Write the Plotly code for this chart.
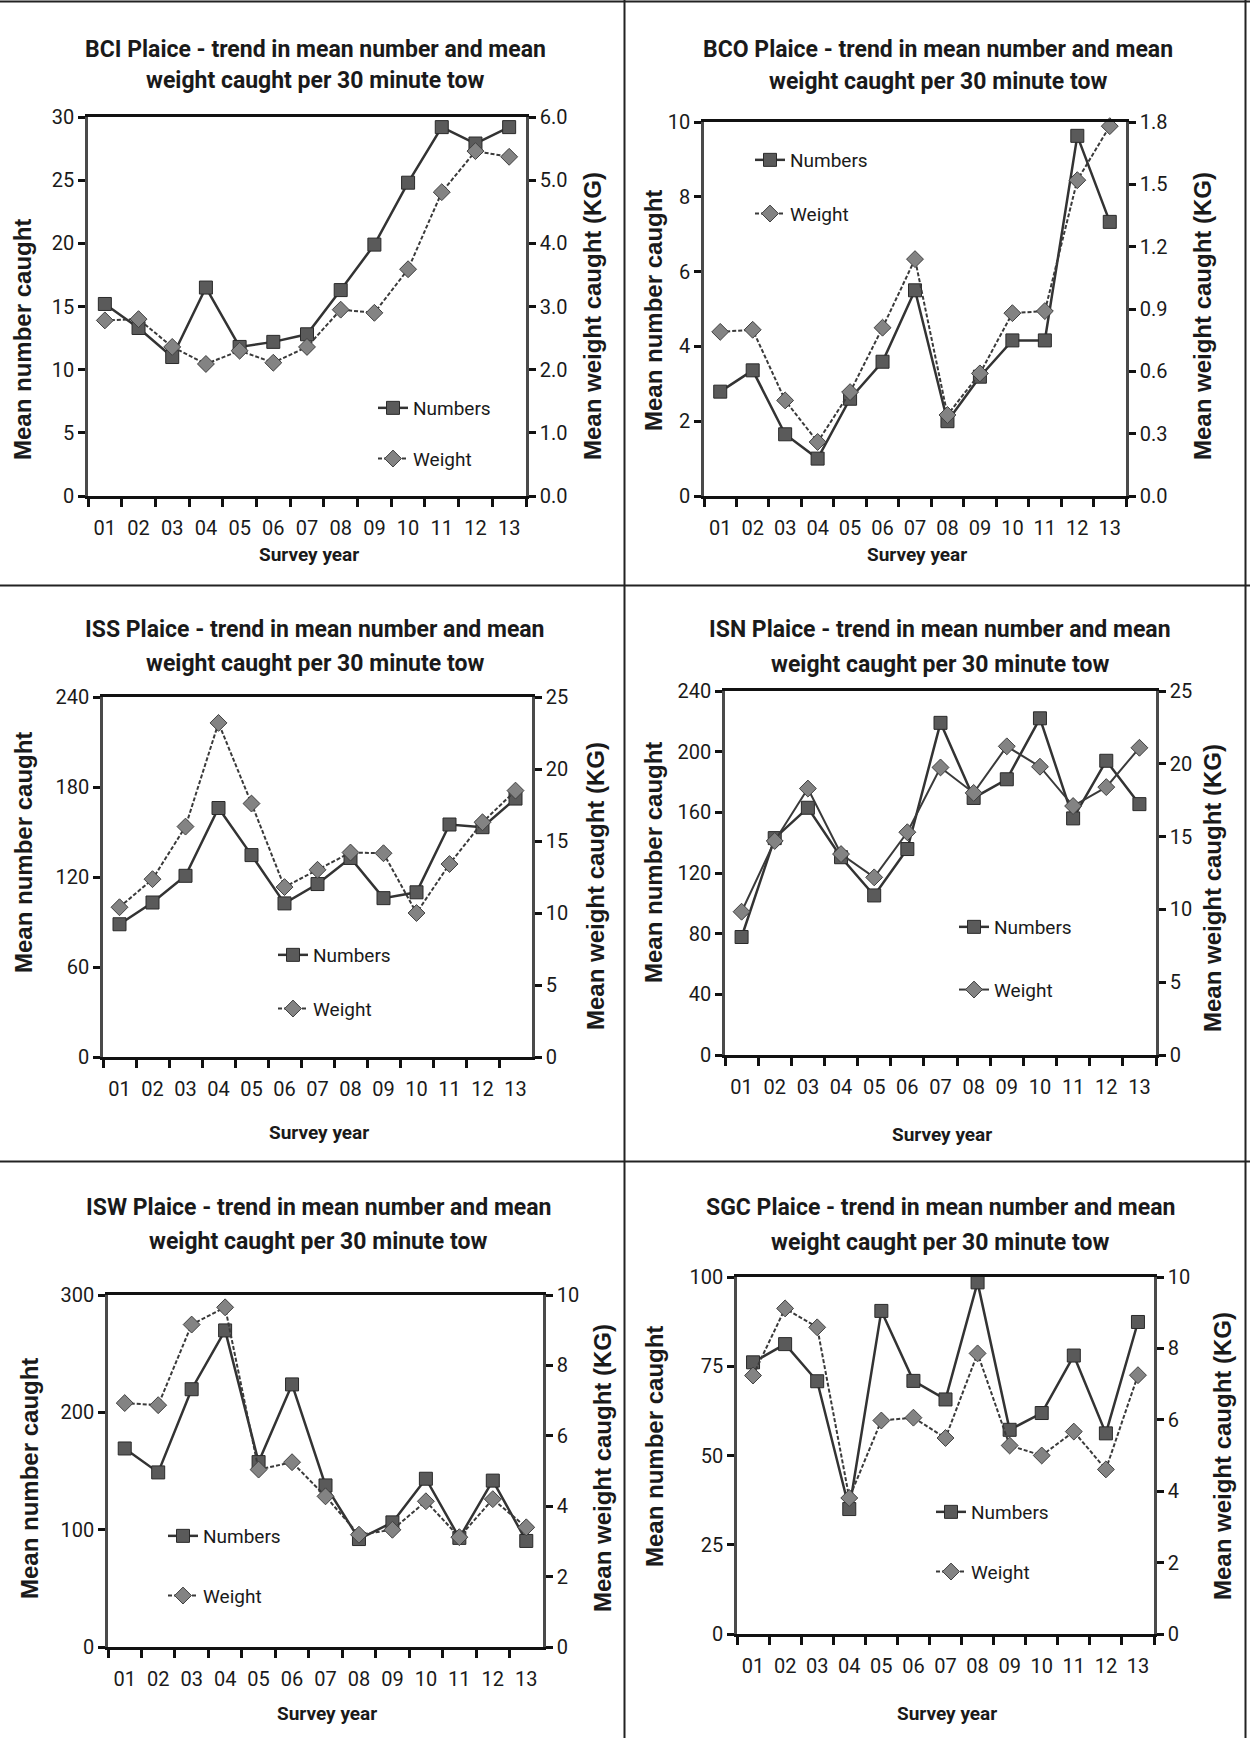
import plotly.graph_objects as go

# ---------------- data ----------------
years = ["01", "02", "03", "04", "05", "06", "07", "08", "09", "10", "11", "12", "13"]

bci_numbers = [15.2, 13.3, 11.0, 16.5, 11.8, 12.2, 12.8, 16.3, 19.9, 24.8, 29.2, 27.9, 29.2]
bci_weight = [2.78, 2.80, 2.36, 2.09, 2.30, 2.11, 2.36, 2.95, 2.90, 3.59, 4.81, 5.46, 5.37]

bco_numbers = [2.79, 3.36, 1.65, 1.0, 2.6, 3.59, 5.5, 2.0, 3.19, 4.16, 4.16, 9.63, 7.33]
bco_weight = [0.79, 0.80, 0.46, 0.26, 0.50, 0.81, 1.14, 0.39, 0.59, 0.88, 0.89, 1.52, 1.78]

iss_numbers = [88.5, 103, 120.8, 166, 134.6, 102.4, 115.3, 132.7, 105.9, 109.8, 155, 153.2, 172.3]
iss_weight = [10.4, 12.35, 16.0, 23.2, 17.6, 11.8, 13.0, 14.2, 14.15, 10.0, 13.4, 16.3, 18.5]

isn_numbers = [77.8, 143, 163, 130.4, 105.2, 135.8, 219, 169.5, 181.8, 222, 156, 194, 165.4]
isn_weight = [9.84, 14.7, 18.3, 13.8, 12.2, 15.3, 19.75, 18.0, 21.2, 19.8, 17.1, 18.4, 21.1]

isw_numbers = [169.2, 148.8, 219.7, 269.8, 157.6, 223.8, 137.7, 92, 106.2, 143.4, 93, 141.8, 90.4]
isw_weight = [6.93, 6.87, 9.16, 9.65, 5.04, 5.25, 4.28, 3.19, 3.33, 4.14, 3.12, 4.2, 3.4]

sgc_numbers = [76.1, 81.2, 70.8, 35.0, 90.5, 70.9, 65.7, 98.5, 57.2, 61.9, 78, 56.2, 87.4]
sgc_weight = [7.24, 9.12, 8.59, 3.81, 5.98, 6.06, 5.49, 7.86, 5.28, 5.0, 5.67, 4.61, 7.25]

bci_left_ticks = [0, 5, 10, 15, 20, 25, 30]
bci_right_ticks = [0.0, 1.0, 2.0, 3.0, 4.0, 5.0, 6.0]
bco_left_ticks = [0, 2, 4, 6, 8, 10]
bco_right_ticks = [0.0, 0.3, 0.6, 0.9, 1.2, 1.5, 1.8]
iss_left_ticks = [0, 60, 120, 180, 240]
iss_right_ticks = [0, 5, 10, 15, 20, 25]
isn_left_ticks = [0, 40, 80, 120, 160, 200, 240]
isn_right_ticks = [0, 5, 10, 15, 20, 25]
isw_left_ticks = [0, 100, 200, 300]
isw_right_ticks = [0, 2, 4, 6, 8, 10]
sgc_left_ticks = [0, 25, 50, 75, 100]
sgc_right_ticks = [0, 2, 4, 6, 8, 10]

titles = ["BCI Plaice - trend in mean number and mean",
          "BCO Plaice - trend in mean number and mean",
          "ISS Plaice - trend in mean number and mean",
          "ISN Plaice - trend in mean number and mean",
          "ISW Plaice - trend in mean number and mean",
          "SGC Plaice - trend in mean number and mean"]
title_line2 = "weight caught per 30 minute tow"
left_title = "Mean number caught"
right_title = "Mean weight caught (KG)"
x_title = "Survey year"

# ---------------- layout (pixel positions) ----------------
W, H = 1250, 1738
NARROW = "Roboto, Liberation Sans, Arial, sans-serif"
WIDE = "Liberation Sans, Arial, sans-serif"

panels = [
    dict(num=bci_numbers, wt=bci_weight, lt=bci_left_ticks, rt=bci_right_ticks, rfmt=".1f",
         box=(88, 526, 117, 496), title=(315, 49, 80), lyt=(23, 340), ryt=(592, 316), xt=(309, 554),
         leg=(413, 408, 52), dash="4px,2px"),
    dict(num=bco_numbers, wt=bco_weight, lt=bco_left_ticks, rt=bco_right_ticks, rfmt=".1f",
         box=(704, 1126, 122, 496), title=(938, 49, 82), lyt=(654, 311), ryt=(1202, 316), xt=(917, 554),
         leg=(790, 160, 55), dash="4px,2px"),
    dict(num=iss_numbers, wt=iss_weight, lt=iss_left_ticks, rt=iss_right_ticks, rfmt="d",
         box=(103, 532, 697, 1057), title=(315, 629, 663), lyt=(23, 853), ryt=(595, 886), xt=(319, 1132),
         leg=(313, 955, 55), dash="4px,2px"),
    dict(num=isn_numbers, wt=isn_weight, lt=isn_left_ticks, rt=isn_right_ticks, rfmt="d",
         box=(725, 1156, 691, 1055), title=(940, 630, 664), lyt=(654, 863), ryt=(1212, 888), xt=(942, 1134),
         leg=(994, 927, 64), dash="solid"),
    dict(num=isw_numbers, wt=isw_weight, lt=isw_left_ticks, rt=isw_right_ticks, rfmt="d",
         box=(108, 543, 1295, 1647), title=(318, 1207, 1241), lyt=(29, 1479), ryt=(602, 1468), xt=(327, 1713),
         leg=(203, 1536, 61), dash="4px,2px"),
    dict(num=sgc_numbers, wt=sgc_weight, lt=sgc_left_ticks, rt=sgc_right_ticks, rfmt="d",
         box=(737, 1154, 1277, 1634), title=(940, 1207, 1242), lyt=(654, 1447), ryt=(1222, 1456), xt=(947, 1713),
         leg=(971, 1512, 61), dash="4px,2px"),
]

fig = go.Figure()
layout = {}
annotations = []
shapes = []

XCOL = "#111111"
YCOL = "#4a4a4a"
TXT = "#1a1a1a"
NP = len(panels)


def ann(text, xpx, ypx, font, angle=0):
    annotations.append(dict(
        text=text, x=xpx / W, y=1 - ypx / H, textangle=angle,
        xref="paper", yref="paper", xanchor="center", yanchor="middle", showarrow=False,
        font=font,
    ))


for i, p in enumerate(panels):
    k = i + 1
    xa = f"xaxis{k}"
    xo = f"xaxis{k + NP}"
    yl = f"yaxis{2 * k - 1}"
    yr = f"yaxis{2 * k}"
    yl_o = f"yaxis{2 * k - 1 + 2 * NP}"
    yr_o = f"yaxis{2 * k + 2 * NP}"
    xref = f"x{k}"
    ylref = f"y{2 * k - 1}"
    yrref = f"y{2 * k}"
    l, r, t, b = p["box"]
    dom_x = [l / W, r / W]
    dom_y = [1 - b / H, 1 - t / H]
    lmax = p["lt"][-1]
    rmax = p["rt"][-1]
    leg_name = "legend" if k == 1 else f"legend{k}"

    fig.add_trace(go.Scatter(
        x=years, y=p["num"], name="Numbers", xaxis=xref, yaxis=ylref,
        mode="lines+markers", cliponaxis=False,
        line=dict(color="#333333", width=2.5),
        marker=dict(symbol="square", size=13, color="#5a5a5a", line=dict(color="#2a2a2a", width=1)),
        legend=leg_name, legendgroup=f"n{k}",
    ))
    fig.add_trace(go.Scatter(
        x=years, y=p["wt"], name="Weight", xaxis=xref, yaxis=yrref,
        mode="lines+markers", cliponaxis=False,
        line=dict(color="#3a3a3a", width=2, dash=p["dash"]),
        marker=dict(symbol="diamond", size=13, color="#838383", line=dict(color="#404040", width=1)),
        legend=leg_name, legendgroup=f"w{k}",
    ))

    tick_font = dict(family=NARROW, size=20, color=TXT)
    common = dict(automargin=False, fixedrange=True)
    layout[xa] = dict(
        domain=dom_x, anchor=ylref, type="category", range=[-0.5, 12.5],
        showline=True, linecolor=XCOL, linewidth=2.5, mirror=True,
        ticks="outside", tickson="boundaries", ticklen=8, tickwidth=2.5, tickcolor=XCOL,
        showgrid=False, zeroline=False, tickfont=tick_font, tickangle=0, ticklabelstandoff=12,
        **common,
    )
    layout[xo] = dict(
        overlaying=xref, anchor=ylref, type="linear", range=[-0.5, 12.5],
        tickmode="array", tickvals=[j - 0.5 for j in range(14)],
        ticks="inside", ticklen=7, tickwidth=2.5, tickcolor=XCOL,
        showticklabels=False, showgrid=False, zeroline=False, showline=False, **common,
    )
    layout[yl] = dict(
        domain=dom_y, anchor=xref, range=[0, lmax], tickmode="array", tickvals=p["lt"],
        showline=True, linecolor=YCOL, linewidth=2.5,
        ticks="outside", ticklen=7, tickwidth=2.5, tickcolor=XCOL,
        showgrid=False, zeroline=False, tickfont=tick_font, ticklabelstandoff=0, **common,
    )
    layout[yr] = dict(
        overlaying=ylref, anchor=xref, side="right", range=[0, rmax],
        tickmode="array", tickvals=p["rt"], tickformat=p["rfmt"],
        showline=True, linecolor=YCOL, linewidth=2.5,
        ticks="outside", ticklen=7, tickwidth=2.5, tickcolor=XCOL,
        showgrid=False, zeroline=False, tickfont=tick_font, ticklabelstandoff=0, **common,
    )
    layout[yl_o] = dict(
        overlaying=ylref, anchor=xref, side="left", range=[0, lmax],
        tickmode="array", tickvals=p["lt"], ticks="inside", ticklen=6, tickwidth=2.5,
        tickcolor=XCOL, showticklabels=False, showgrid=False, zeroline=False, showline=False, **common,
    )
    layout[yr_o] = dict(
        overlaying=ylref, anchor=xref, side="right", range=[0, rmax],
        tickmode="array", tickvals=p["rt"], ticks="inside", ticklen=6, tickwidth=2.5,
        tickcolor=XCOL, showticklabels=False, showgrid=False, zeroline=False, showline=False, **common,
    )

    # legend
    tx, cy, dist = p["leg"]
    layout[leg_name] = dict(
        x=(tx - 40) / W, y=1 - (cy - 19) / H, xanchor="left", yanchor="top",
        bgcolor="rgba(0,0,0,0)", borderwidth=0, traceorder="grouped",
        tracegroupgap=max(dist - 29, 0), itemwidth=30,
        font=dict(family=NARROW, size=19, color=TXT),
    )

    # texts
    cx, y1, y2 = p["title"]
    tfont = dict(family=NARROW, size=23, color=TXT)
    ann(f"<b>{titles[i]}</b>", cx, y1, tfont)
    ann(f"<b>{title_line2}</b>", cx, y2, tfont)
    afont = dict(family=WIDE, size=24, color=TXT)
    ann(f"<b>{left_title}</b>", *p["lyt"], afont, angle=-90)
    ann(f"<b>{right_title}</b>", *p["ryt"], afont, angle=-90)
    ann(f"<b>{x_title}</b>", *p["xt"], dict(family=NARROW, size=19, color=TXT))


# frame lines
def hline(ypx):
    shapes.append(dict(type="line", xref="paper", yref="paper", x0=0, x1=1,
                       y0=1 - ypx / H, y1=1 - ypx / H, line=dict(color="#222222", width=2)))


def vline(xpx):
    shapes.append(dict(type="line", xref="paper", yref="paper", x0=xpx / W, x1=xpx / W,
                       y0=0, y1=1, line=dict(color="#222222", width=2)))


hline(1.5)
hline(585.5)
hline(1161.5)
vline(624.5)
vline(1245.5)

fig.update_layout(
    width=W, height=H, margin=dict(l=0, r=0, t=0, b=0, pad=0, autoexpand=False),
    paper_bgcolor="white", plot_bgcolor="rgba(0,0,0,0)",
    showlegend=True, annotations=annotations, shapes=shapes,
    **layout,
)

fig.write_html(
    "out.html",
    config={"displayModeBar": False},
    post_script=("document.body.style.margin='0px';document.body.style.padding='0px';"
                 "document.documentElement.style.overflow='hidden';"),
)
